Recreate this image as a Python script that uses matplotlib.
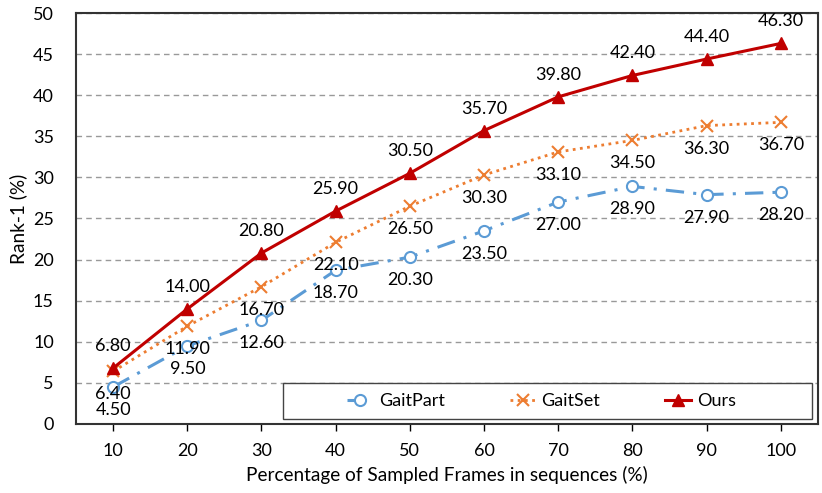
import matplotlib
matplotlib.use("Agg")
import matplotlib.pyplot as plt
from matplotlib.patches import Rectangle

categories = ["10", "20", "30", "40", "50", "60", "70", "80", "90", "100"]
gaitpart = [4.50, 9.50, 12.60, 18.70, 20.30, 23.50, 27.00, 28.90, 27.90, 28.20]
gaitset = [6.40, 11.90, 16.70, 22.10, 26.50, 30.30, 33.10, 34.50, 36.30, 36.70]
ours = [6.80, 14.00, 20.80, 25.90, 30.50, 35.70, 39.80, 42.40, 44.40, 46.30]
yticks = [0, 5, 10, 15, 20, 25, 30, 35, 40, 45, 50]

plt.rcParams['font.family'] = ['Lato', 'DejaVu Sans']

fig = plt.figure(figsize=(8.22, 4.93), dpi=100)
ax = fig.add_axes([0.0925, 0.140, 0.9025, 0.8336])

x = list(range(len(categories)))
c_part = '#5B9BD5'
c_set = '#ED7D31'
c_ours = '#C00000'

ax.plot(x, gaitpart, color=c_part, lw=2.2, linestyle=(0, (6, 3, 1, 3)),
        marker='o', ms=8, mfc='white', mec=c_part, mew=1.5, zorder=3, label='GaitPart')
ax.plot(x, gaitset, color=c_set, lw=2.0, linestyle=(0, (1, 1.6)),
        marker='x', ms=9, mec=c_set, mew=1.5, zorder=3, label='GaitSet')
ax.plot(x, ours, color=c_ours, lw=2.2, linestyle='-',
        marker='^', ms=9, mfc=c_ours, mec=c_ours, zorder=4, label='Ours')

fs = 13
for xi, v in zip(x, ours):
    ax.annotate(f"{v:.2f}", (xi, v), xytext=(0, 22), textcoords='offset pixels',
                ha='center', va='center', fontsize=fs, color='black', zorder=5)
for xi, v in zip(x, gaitset):
    ax.annotate(f"{v:.2f}", (xi, v), xytext=(0, -23), textcoords='offset pixels',
                ha='center', va='center', fontsize=fs, color='black', zorder=5)
for xi, v in zip(x, gaitpart):
    ax.annotate(f"{v:.2f}", (xi, v), xytext=(0, -23), textcoords='offset pixels',
                ha='center', va='center', fontsize=fs, color='black', zorder=5)

ax.set_xlim(-0.5, len(categories) - 0.5)
ax.set_ylim(0, 50)
ax.set_xticks(x)
ax.set_xticklabels(categories)
ax.set_yticks(yticks)
ax.tick_params(axis='x', length=5, width=1, direction='out', labelsize=fs, pad=9, colors='black')
ax.tick_params(axis='y', length=0, labelsize=fs, pad=16, colors='black')
ax.yaxis.grid(True, color='#999999', linestyle=(0, (4, 3)), lw=1)
ax.set_axisbelow(True)
for s in ax.spines.values():
    s.set_color('#333333')
    s.set_linewidth(1.5)

ax.set_xlabel('Percentage of Sampled Frames in sequences (%)', fontsize=13.7, labelpad=5)
ax.set_ylabel('Rank-1 (%)', fontsize=13.7, labelpad=4)

box = Rectangle((0.279, 0.012), 0.713, 0.088, transform=ax.transAxes,
                facecolor='white', edgecolor='#444444', lw=1.0, zorder=6)
ax.add_patch(box)
leg = ax.legend(loc='center', bbox_to_anchor=(0.279 + 0.713 / 2 - 0.008, 0.056),
                ncol=3, frameon=False, fontsize=fs, handlelength=1.45,
                handletextpad=0.3, columnspacing=3.6, borderaxespad=0)
leg.set_zorder(7)

fig.savefig('out.png', dpi=100)
